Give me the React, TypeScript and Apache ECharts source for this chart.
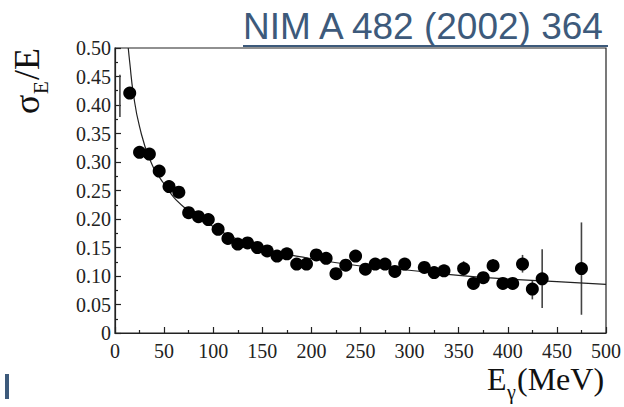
import React, { useEffect, useRef } from "react";
import * as echarts from "echarts";

// Measured points: photon energy (MeV) and relative resolution sigma_E/E
const energies = [15, 25, 35, 45, 55, 65, 75, 85, 95, 105, 115, 125, 135, 145, 155, 165, 175, 185, 195, 205, 215, 225, 235, 245, 255, 265, 275, 285, 295, 315, 325, 335, 355, 365, 375, 385, 395, 405, 415, 425, 435, 475];
const sigmas = [0.421, 0.317, 0.314, 0.284, 0.257, 0.247, 0.211, 0.204, 0.199, 0.182, 0.166, 0.156, 0.158, 0.150, 0.144, 0.135, 0.139, 0.121, 0.121, 0.137, 0.131, 0.104, 0.119, 0.135, 0.112, 0.121, 0.121, 0.108, 0.121, 0.115, 0.106, 0.109, 0.113, 0.087, 0.097, 0.118, 0.087, 0.087, 0.121, 0.077, 0.095, 0.113];

// Visible error bars
const errEnergies = [5, 355, 385, 415, 425, 435, 475];
const errLow = [0.379, 0.100, 0.107, 0.106, 0.059, 0.044, 0.032];
const errHigh = [0.453, 0.126, 0.130, 0.137, 0.093, 0.147, 0.194];

// Fit curve
const fitEnergies = [13.5, 15, 18.6, 25, 35.6, 49, 70, 97, 120, 154, 188, 250, 297, 350, 399, 450, 500];
const fitValues = [0.5, 0.475, 0.421, 0.362, 0.304, 0.264, 0.221, 0.190, 0.168, 0.147, 0.134, 0.1175, 0.1105, 0.101, 0.0947, 0.090, 0.0854];

const xTicks = [0, 50, 100, 150, 200, 250, 300, 350, 400, 450, 500];

const serif = "'Liberation Serif', 'DejaVu Serif', serif";

export default function App() {
  const ref = useRef<HTMLDivElement>(null);
  useEffect(() => {
    if (!ref.current) return;
    const chart = echarts.init(ref.current, null, { renderer: "svg" });
    const points = energies.map((e, i) => [e, sigmas[i]]);
    const fit = fitEnergies.map((e, i) => [e, fitValues[i]]);
    const errs = errEnergies.map((e, i) => [e, errLow[i], errHigh[i]]);
    chart.setOption({
      animation: false,
      backgroundColor: "#fff",
      grid: { left: 115, right: 18, top: 48, bottom: 74, show: true, borderColor: "#222", borderWidth: 1.2, backgroundColor: "transparent" },
      xAxis: {
        type: "value",
        min: xTicks[0],
        max: xTicks[xTicks.length - 1],
        interval: 50,
        axisLine: { show: true, lineStyle: { color: "#222", width: 1.2 } },
        axisTick: { show: true, inside: true, length: 6, lineStyle: { color: "#222", width: 1.2 } },
        minorTick: { show: true, splitNumber: 2, length: 3, lineStyle: { color: "#222", width: 1.2 } },
        splitLine: { show: false },
        axisLabel: { color: "#222", fontFamily: serif, fontSize: 20, margin: 8 },
      },
      yAxis: {
        type: "value",
        min: 0,
        max: 0.5,
        interval: 0.05,
        axisLine: { show: true, lineStyle: { color: "#222", width: 1.2 } },
        axisTick: { show: true, inside: true, length: 6, lineStyle: { color: "#222", width: 1.2 } },
        minorTick: { show: true, splitNumber: 2, length: 3, lineStyle: { color: "#222", width: 1.2 } },
        splitLine: { show: false },
        axisLabel: {
          color: "#222",
          fontFamily: serif,
          fontSize: 20,
          margin: 4,
          formatter: (v: number) => (v === 0 ? "0" : v.toFixed(2)),
        },
      },
      series: [
        {
          type: "custom",
          data: errs,
          z: 1,
          renderItem: (params: any, api: any) => {
            const x = api.value(0);
            const p1 = api.coord([x, api.value(1)]);
            const p2 = api.coord([x, api.value(2)]);
            return {
              type: "line",
              shape: { x1: p1[0], y1: p1[1], x2: p2[0], y2: p2[1] },
              style: { stroke: "#444", lineWidth: 1.6 },
            };
          },
        },
        {
          type: "line",
          data: fit,
          smooth: true,
          showSymbol: false,
          symbol: "none",
          z: 2,
          lineStyle: { color: "#222", width: 1.2 },
        },
        {
          type: "scatter",
          data: points,
          symbol: "circle",
          symbolSize: 13,
          z: 3,
          itemStyle: { color: "#000", opacity: 1 },
        },
      ],
      graphic: [
        {
          type: "text",
          right: 17,
          top: 8,
          style: { text: "NIM A 482 (2002) 364", fill: "#3d5a7b", font: "37px 'Liberation Sans', Arial, sans-serif" },
        },
        { type: "rect", shape: { x: 243, y: 45, width: 365, height: 2 }, style: { fill: "#3d5a7b" } },
        { type: "rect", shape: { x: 5, y: 374, width: 4, height: 25 }, style: { fill: "#3d5a7b" } },
        {
          type: "group",
          x: 45,
          y: 114,
          rotation: Math.PI / 2,
          children: [
            { type: "text", x: 0, y: 0, style: { text: "σ", font: `36px ${serif}`, fill: "#111", textAlign: "left", textVerticalAlign: "bottom" } },
            { type: "text", x: 20, y: 6, style: { text: "E", font: `21px ${serif}`, fill: "#111", textAlign: "left", textVerticalAlign: "bottom" } },
            { type: "text", x: 34, y: 0, style: { text: "/E", font: `36px ${serif}`, fill: "#111", textAlign: "left", textVerticalAlign: "bottom" } },
          ],
        },
        {
          type: "group",
          x: 487,
          y: 395,
          children: [
            { type: "text", x: 0, y: 0, style: { text: "E", font: `32px ${serif}`, fill: "#111", textAlign: "left", textVerticalAlign: "bottom" } },
            { type: "text", x: 20, y: 7, style: { text: "γ", font: `20px ${serif}`, fill: "#111", textAlign: "left", textVerticalAlign: "bottom" } },
            { type: "text", x: 30, y: 0, style: { text: "(MeV)", font: `32px ${serif}`, fill: "#111", textAlign: "left", textVerticalAlign: "bottom" } },
          ],
        },
      ],
    });
    return () => chart.dispose();
  }, []);
  return <div ref={ref} style={{ width: 624, height: 407, position: "absolute", left: 0, top: 0 }} />;
}
